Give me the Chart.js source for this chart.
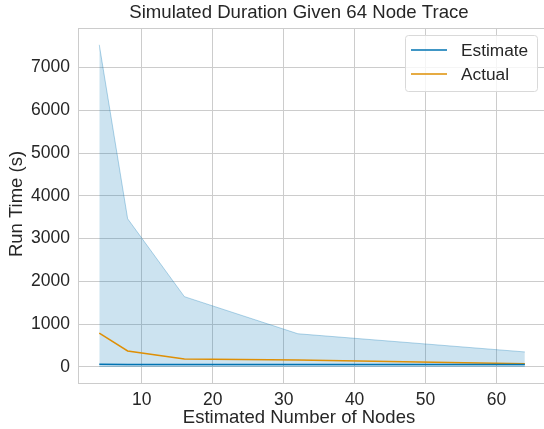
<!DOCTYPE html>
<html>
<head>
<meta charset="utf-8">
<script src="https://cdn.jsdelivr.net/npm/chart.js@4.4.1/dist/chart.umd.min.js"></script>
<style>
  html, body { margin: 0; padding: 0; background: #fff; }
  #wrap { width: 544px; height: 429px; }
</style>
</head>
<body>
<div id="wrap"><canvas id="durationChart" width="544" height="429"></canvas></div>
<script>
// Data
const nodes = [4, 8, 16, 32, 64];
const estimate = [58, 57, 56, 56, 55];
const actual = [790, 372, 186, 163, 70];
const bandUpper = [7535, 3465, 1642, 774, 349];
const bandLower = [12, 12, 12, 12, 12];
const yTicks = [0, 1000, 2000, 3000, 4000, 5000, 6000, 7000];
const xTicks = [10, 20, 30, 40, 50, 60];

const FONT = "'Liberation Sans', Arial, sans-serif";
const BLUE = "#0173b2";
const ORANGE = "#de8f05";
const TEXT = "#262626";

const pts = (ys) => nodes.map((x, i) => ({ x: x, y: ys[i] }));

// titles, top spine and boxed legend, placed like matplotlib does
const extras = {
    id: "extras",
    afterDraw(chart) {
        const ctx = chart.ctx;
        const area = chart.chartArea;
        ctx.save();

        ctx.strokeStyle = "#cccccc";
        ctx.lineWidth = 1;
        ctx.beginPath();
        ctx.moveTo(area.left, area.top + 0.5);
        ctx.lineTo(area.right, area.top + 0.5);
        ctx.stroke();

        ctx.fillStyle = TEXT;
        ctx.textAlign = "center";
        ctx.textBaseline = "middle";
        ctx.font = "18.6px " + FONT;
        ctx.fillText("Simulated Duration Given 64 Node Trace", 299, 13);

        ctx.font = "18.5px " + FONT;
        ctx.fillText("Estimated Number of Nodes", 299, 418);

        ctx.save();
        ctx.translate(17, 204);
        ctx.rotate(-Math.PI / 2);
        ctx.fillText("Run Time (s)", 0, 0);
        ctx.restore();

        // legend frame
        const lx = 405, ly = 35, lw = 132, lh = 56;
        ctx.fillStyle = "rgba(255,255,255,0.8)";
        ctx.strokeStyle = "#d9d9d9";
        ctx.lineWidth = 1;
        ctx.beginPath();
        ctx.roundRect(lx + 0.5, ly + 0.5, lw, lh, 3);
        ctx.fill();
        ctx.stroke();

        ctx.font = "17.3px " + FONT;
        ctx.textAlign = "left";
        const items = [["Estimate", BLUE, 50], ["Actual", ORANGE, 74]];
        items.forEach(([label, color, y]) => {
            ctx.strokeStyle = color;
            ctx.lineWidth = 1.5;
            ctx.beginPath();
            ctx.moveTo(411, y);
            ctx.lineTo(447, y);
            ctx.stroke();
            ctx.fillStyle = TEXT;
            ctx.fillText(label, 461, y + 1);
        });
        ctx.restore();
    }
};

new Chart(document.getElementById("durationChart"), {
    type: "line",
    data: {
        datasets: [
            {
                label: "Estimate",
                data: pts(estimate),
                borderColor: BLUE,
                borderWidth: 1.5,
                pointRadius: 0,
                fill: false,
                order: 0,
            },
            {
                label: "Actual",
                data: pts(actual),
                borderColor: ORANGE,
                borderWidth: 1.5,
                pointRadius: 0,
                fill: false,
                order: 0,
            },
            {
                label: "upper",
                data: pts(bandUpper),
                borderColor: "rgba(1,115,178,0.3)",
                borderWidth: 1,
                backgroundColor: "rgba(1,115,178,0.2)",
                pointRadius: 0,
                fill: "+1",
                order: 1,
            },
            {
                label: "lower",
                data: pts(bandLower),
                borderColor: "rgba(1,115,178,0.3)",
                borderWidth: 1,
                pointRadius: 0,
                fill: false,
                order: 1,
            },
        ],
    },
    options: {
        responsive: false,
        animation: false,
        layout: { padding: { top: 28, right: 0, left: 0, bottom: 0 } },
        plugins: {
            legend: { display: false },
            tooltip: { enabled: false },
        },
        scales: {
            x: {
                type: "linear",
                min: 1,
                max: 66.7,
                afterFit: (s) => { s.height = 46; },
                afterBuildTicks: (s) => { s.ticks = xTicks.map((v) => ({ value: v })); },
                grid: { color: "#cccccc", lineWidth: 1, drawTicks: false },
                border: { color: "#cccccc", width: 1 },
                ticks: {
                    color: TEXT,
                    font: { family: FONT, size: 17.5 },
                    padding: 7,
                    maxRotation: 0,
                    callback: (v) => String(v),
                },
            },
            y: {
                type: "linear",
                min: -378,
                max: 7928,
                afterFit: (s) => { s.width = 78; },
                afterBuildTicks: (s) => { s.ticks = yTicks.map((v) => ({ value: v })); },
                grid: { color: "#cccccc", lineWidth: 1, drawTicks: false },
                border: { color: "#cccccc", width: 1 },
                ticks: {
                    color: TEXT,
                    font: { family: FONT, size: 17.5 },
                    padding: 8,
                    callback: (v) => String(v),
                },
            },
        },
    },
    plugins: [extras],
});
</script>
</body>
</html>
